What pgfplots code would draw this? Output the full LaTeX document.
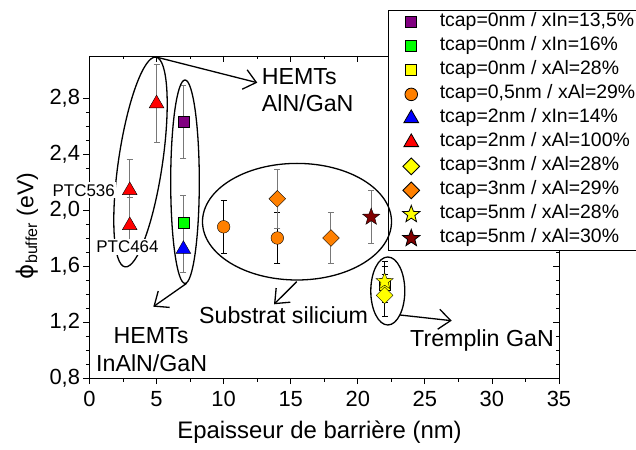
\documentclass[border=0pt]{standalone}
\usepackage{pgfplots}
\pgfplotsset{compat=1.18}
\usepackage{fontspec}
\setmainfont{Liberation Sans}
\newfontfamily\dejavu{DejaVu Sans}
\usetikzlibrary{arrows.meta}
\definecolor{cpurple}{RGB}{128,0,128}
\definecolor{cgreen}{RGB}{0,255,0}
\definecolor{cyellow}{RGB}{255,255,0}
\definecolor{corange}{RGB}{255,128,0}
\definecolor{cblue}{RGB}{0,0,255}
\definecolor{cred}{RGB}{255,0,0}
\definecolor{cmaroon}{RGB}{128,0,0}
\definecolor{cbar}{RGB}{120,120,120}
\pgfdeclareplotmark{fstar}{%
\pgfpathmoveto{\pgfpointpolar{90}{\pgfplotmarksize}}%
\pgfpathlineto{\pgfpointpolar{126}{0.42\pgfplotmarksize}}%
\pgfpathlineto{\pgfpointpolar{162}{\pgfplotmarksize}}%
\pgfpathlineto{\pgfpointpolar{198}{0.42\pgfplotmarksize}}%
\pgfpathlineto{\pgfpointpolar{234}{\pgfplotmarksize}}%
\pgfpathlineto{\pgfpointpolar{270}{0.42\pgfplotmarksize}}%
\pgfpathlineto{\pgfpointpolar{306}{\pgfplotmarksize}}%
\pgfpathlineto{\pgfpointpolar{342}{0.42\pgfplotmarksize}}%
\pgfpathlineto{\pgfpointpolar{18}{\pgfplotmarksize}}%
\pgfpathlineto{\pgfpointpolar{54}{0.42\pgfplotmarksize}}%
\pgfpathclose\pgfusepathqfillstroke}
\pgfplotsset{
  common/.style={scale only axis, width=469.5bp, height=322bp,
    at={(89.5bp,72bp)}, anchor=south west,
    xmin=0, xmax=35, ymin=0.8, ymax=3.1,
    xtick={0,5,10,15,20,25,30,35}, ytick={0.8,1.2,1.6,2.0,2.4,2.8},
    minor x tick num=1, minor y tick num=3,
    major tick length=6bp, minor tick length=3.5bp,
    every tick/.style={black, line width=0.8bp},
    axis line style={line width=0.8bp}},
  ebar/.style={error bars/.cd, y dir=both, y explicit, error mark=-,
    error bar style={#1, line width=1bp},
    error mark options={rotate=90, #1, mark size=3bp, line width=1bp}},
}
\begin{document}
\begin{tikzpicture}
\useasboundingbox (0,0) rectangle (636bp,450bp);
% frame: top and right with inward ticks
\begin{axis}[common, axis x line*=top, axis y line*=right, tick align=inside,
  xticklabels={}, yticklabels={}]
\end{axis}
\begin{axis}[common, axis x line*=bottom, axis y line*=left, tick align=outside,
  clip=false,
  /pgf/number format/assume math mode=true,
  ticklabel style={font=\fontsize{22}{22}\selectfont},
  xticklabel style={yshift=-4bp},
  yticklabel style={/pgf/number format/.cd, fixed, fixed zerofill, precision=1, use comma},
  xlabel={Epaisseur de barrière (nm)},
  xlabel style={font=\fontsize{24}{24}\selectfont, at={(axis description cs:0.49,-0.1668)}, anchor=center},
  ylabel={{\dejavu ϕ}\textsubscript{buffer} (eV)},
  ylabel style={font=\fontsize{23}{23}\selectfont, at={(axis description cs:-0.133,0.472)}, anchor=center},
  legend style={at={(axis description cs:0.6364,1.1429)}, anchor=north west,
    draw=black, fill=white, line width=0.8bp, font=\fontsize{19.5}{20}\selectfont,
    inner xsep=14bp, inner ysep=0pt, row sep=0pt, column sep=20bp,
    nodes={inner xsep=0pt, inner ysep=2bp, text height=14.5bp, text depth=5.5bp}},
  legend cell align=left,
  legend image code/.code={\draw[#1, mark repeat=2, mark phase=2] plot coordinates {(0bp,0bp) (13bp,0bp) (26bp,0bp)};},
  every axis plot/.append style={only marks, mark options={draw=black, line width=0.5bp}},
]
\addplot[mark=square*, mark size=5.5bp, mark options={fill=cpurple}, ebar=cbar]
  table[x=x, y=y, y error=e, row sep=\\]{x y e\\ 7 2.63 0.26\\};
\addlegendentry{tcap=0nm / xIn=13,5\%}
\addplot[mark=square*, mark size=5.5bp, mark options={fill=cgreen}, ebar=cbar]
  table[x=x, y=y, y error=e, row sep=\\]{x y e\\ 7 1.91 0.19\\};
\addlegendentry{tcap=0nm / xIn=16\%}
\addplot[mark=square*, mark size=5.5bp, mark options={fill=cyellow}, ebar=black]
  table[x=x, y=y, y error=e, row sep=\\]{x y e\\ 22 1.47 0.13\\};
\addlegendentry{tcap=0nm / xAl=28\%}
\addplot[mark=*, mark size=6.3bp, mark options={fill=corange}, ebar=black]
  table[x=x, y=y, y error=e, row sep=\\]{x y e\\ 10 1.88 0.19\\ 14 1.80 0.18\\};
\addlegendentry{tcap=0,5nm / xAl=29\%}
\addplot[mark=triangle*, mark size=8.5bp, mark options={fill=cblue}, ebar=cbar]
  table[x=x, y=y, y error=e, row sep=\\]{x y e\\ 7 1.72 0.17\\};
\addlegendentry{tcap=2nm / xIn=14\%}
\addplot[mark=triangle*, mark size=8.5bp, mark options={fill=cred}, ebar=cbar]
  table[x=x, y=y, y error=e, row sep=\\]{x y e\\ 3 2.14 0.22\\ 3 1.89 0.20\\ 5 2.76 0.28\\};
\addlegendentry{tcap=2nm / xAl=100\%}
\addplot[mark=square*, mark size=5.9bp, mark options={fill=cyellow, rotate=45}, ebar=black]
  table[x=x, y=y, y error=e, row sep=\\]{x y e\\ 22 1.39 0.15\\};
\addlegendentry{tcap=3nm / xAl=28\%}
\addplot[mark=square*, mark size=5.9bp, mark options={fill=corange, rotate=45}, ebar=cbar]
  table[x=x, y=y, y error=e, row sep=\\]{x y e\\ 14 2.08 0.21\\ 18 1.80 0.18\\};
\addlegendentry{tcap=3nm / xAl=29\%}
\addplot[mark=fstar, mark size=9bp, mark options={fill=cyellow}, ebar=black]
  table[x=x, y=y, y error=e, row sep=\\]{x y e\\ 22 1.49 0.14\\};
\addlegendentry{tcap=5nm / xAl=28\%}
\addplot[mark=fstar, mark size=9bp, mark options={fill=cmaroon}, ebar=cbar]
  table[x=x, y=y, y error=e, row sep=\\]{x y e\\ 21 1.95 0.19\\};
\addlegendentry{tcap=5nm / xAl=30\%}
\end{axis}
% annotations (picture coordinates in bp)
\begin{scope}[line width=1.3bp]
\draw[rotate around={81.6:(140.5bp,288bp)}] (140.5bp,288bp) ellipse [x radius=106bp, y radius=22bp];
\draw (185bp,268.3bp) ellipse [x radius=14.3bp, y radius=101.7bp];
\draw (297bp,228.3bp) ellipse [x radius=94.5bp, y radius=58.3bp];
\draw (387.8bp,159bp) ellipse [x radius=17bp, y radius=34bp];
\draw[-{Straight Barb[length=12bp,width=20bp]}] (156bp,393bp) -- (257.3bp,367.3bp);
\draw[-{Straight Barb[length=12bp,width=20bp]}] (186.7bp,166.7bp) -- (153.3bp,143.3bp);
\draw[-{Straight Barb[length=12bp,width=20bp]}] (296.7bp,168.3bp) -- (274bp,145.7bp);
\draw[-{Straight Barb[length=12bp,width=20bp]}] (400bp,135bp) -- (451.7bp,129.3bp);
\end{scope}
\begin{scope}[font=\fontsize{23.3}{23.3}\selectfont, inner sep=0pt]
\node[anchor=base west] at (261.7bp,365.65bp) {HEMTs};
\node[anchor=base west] at (261.7bp,338.35bp) {AlN/GaN};
\node[anchor=base] at (151bp,106.65bp) {HEMTs};
\node[anchor=base] at (151.7bp,78.35bp) {InAlN/GaN};
\node[anchor=base east] at (368.3bp,126.65bp) {Substrat silicium};
\node[anchor=base west] at (410bp,103.35bp) {Tremplin GaN};
\end{scope}
\begin{scope}[font=\fontsize{17}{17}\selectfont, fill=white, inner xsep=1bp, inner ysep=2bp]
\node[anchor=base east, fill=white] at (116bp,253.9bp) {PTC536};
\node[anchor=base, fill=white] at (127.5bp,197.2bp) {PTC464};
\end{scope}
\end{tikzpicture}
\end{document}
